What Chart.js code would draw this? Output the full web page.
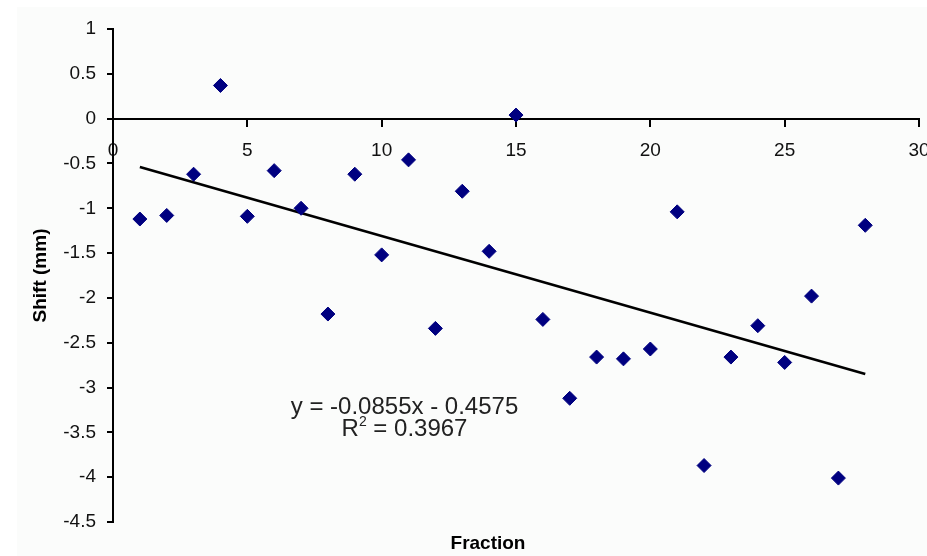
<!DOCTYPE html>
<html>
<head>
<meta charset="utf-8">
<script src="https://cdn.jsdelivr.net/npm/chart.js@4/dist/chart.umd.min.js"></script>
<style>
  html, body { margin: 0; padding: 0; background: #fff; }
  #wrap { width: 927px; height: 556px; position: relative; }
</style>
</head>
<body>
<div id="wrap"><canvas id="chart"></canvas></div>
<script>
// ====== DATA ======
const fractions = [1, 2, 3, 4, 5, 6, 7, 8, 9, 10, 11, 12, 13, 14,
                   15, 16, 17, 18, 19, 20, 21, 22, 23, 24, 25, 26, 27, 28];
const shifts = [-1.12, -1.08, -0.62, 0.37, -1.09, -0.58, -1.00, -2.18, -0.62, -1.52, -0.46, -2.34, -0.81, -1.48,
                0.04, -2.24, -3.12, -2.66, -2.68, -2.57, -1.04, -3.87, -2.66, -2.31, -2.72, -1.98, -4.01, -1.19];

// linear trendline as drawn (endpoints at first / last fraction)
const trendX = [1, 28];
const trendY = [-0.54, -2.85];

const xTicks = [0, 5, 10, 15, 20, 25, 30];
const yTicks = [1, 0.5, 0, -0.5, -1, -1.5, -2, -2.5, -3, -3.5, -4, -4.5];

const eqLine1 = "y = -0.0855x - 0.4575";
const eqLine2 = ["R", "2", " = 0.3967"];

const FONT = "'Liberation Sans', Arial, sans-serif";

// ====== PLUGINS ======
const backdrop = {
  id: "backdrop",
  beforeDraw(chart) {
    const { ctx, width, height } = chart;
    ctx.save();
    ctx.fillStyle = "#ffffff";
    ctx.fillRect(0, 0, width, height);
    ctx.fillStyle = "#fbfcfb";
    ctx.fillRect(17, 7, width - 17, height - 7);
    ctx.restore();
  }
};

const labels = {
  id: "labels",
  afterDraw(chart) {
    const { ctx, scales: { x, y } } = chart;
    ctx.save();
    ctx.fillStyle = "#222";
    ctx.textBaseline = "alphabetic";

    // trendline equation
    const cx = x.getPixelForValue(10.85);
    const by = y.getPixelForValue(-3.29);
    const big = `24px ${FONT}`, small = `14px ${FONT}`;
    ctx.font = big;
    ctx.textAlign = "center";
    ctx.fillText(eqLine1, cx, by);

    // R² line, built from pieces so the 2 sits raised
    ctx.font = big;
    const wR = ctx.measureText(eqLine2[0]).width;
    const wRest = ctx.measureText(eqLine2[2]).width;
    ctx.font = small;
    const w2 = ctx.measureText(eqLine2[1]).width;
    let sx = cx - (wR + w2 + wRest) / 2;
    const by2 = by + 22;
    ctx.textAlign = "left";
    ctx.font = big;
    ctx.fillText(eqLine2[0], sx, by2);
    sx += wR;
    ctx.font = small;
    ctx.fillText(eqLine2[1], sx, by2 - 10);
    sx += w2;
    ctx.font = big;
    ctx.fillText(eqLine2[2], sx, by2);

    // x axis title
    ctx.fillStyle = "#000";
    ctx.font = `bold 19px ${FONT}`;
    ctx.textAlign = "center";
    ctx.fillText("Fraction", 488, 549);
    ctx.restore();
  }
};

// ====== CHART ======
new Chart(document.getElementById("chart"), {
  type: "scatter",
  data: {
    datasets: [
      {
        label: "Shift",
        data: fractions.map((f, i) => ({ x: f, y: shifts[i] })),
        pointStyle: "rectRot",
        pointRadius: 7,
        pointHoverRadius: 7,
        backgroundColor: "#000080",
        borderColor: "#000080",
        borderWidth: 1,
        order: 1
      },
      {
        type: "line",
        label: "Linear",
        data: trendX.map((f, i) => ({ x: f, y: trendY[i] })),
        borderColor: "#000",
        borderWidth: 2.6,
        pointRadius: 0,
        fill: false,
        order: 2
      }
    ]
  },
  options: {
    responsive: true,
    maintainAspectRatio: false,
    animation: false,
    layout: { padding: { left: 0, top: 29, right: 5, bottom: 34 } },
    plugins: {
      legend: { display: false },
      tooltip: { enabled: false }
    },
    scales: {
      x: {
        type: "linear",
        position: { y: 0 },
        min: 0,
        max: 30,
        afterBuildTicks: s => { s.ticks = xTicks.map(v => ({ value: v })); },
        afterFit: s => { s.paddingLeft = 0; s.paddingRight = 0; },
        grid: { drawOnChartArea: false, drawTicks: true, tickLength: 7, color: "#000", lineWidth: 2 },
        border: { display: true, color: "#000", width: 2 },
        ticks: {
          color: "#111",
          padding: 14,
          maxRotation: 0,
          font: { family: FONT, size: 19 },
          callback: v => String(v)
        }
      },
      y: {
        type: "linear",
        position: "left",
        min: -4.5,
        max: 1,
        afterBuildTicks: s => { s.ticks = yTicks.map(v => ({ value: v })); },
        afterFit: s => { s.width = 113; s.paddingTop = 0; s.paddingBottom = 0; },
        grid: { drawOnChartArea: false, drawTicks: true, tickLength: 6, color: "#000", lineWidth: 2 },
        border: { display: true, color: "#000", width: 2 },
        ticks: {
          color: "#111",
          padding: 11,
          font: { family: FONT, size: 19 },
          callback: v => String(Math.round(v * 10) / 10)
        },
        title: {
          display: true,
          text: "Shift (mm)",
          color: "#000",
          padding: { top: 29, bottom: 0 },
          font: { family: FONT, size: 19, weight: "bold" }
        }
      }
    }
  },
  plugins: [backdrop, labels]
});
</script>
</body>
</html>
